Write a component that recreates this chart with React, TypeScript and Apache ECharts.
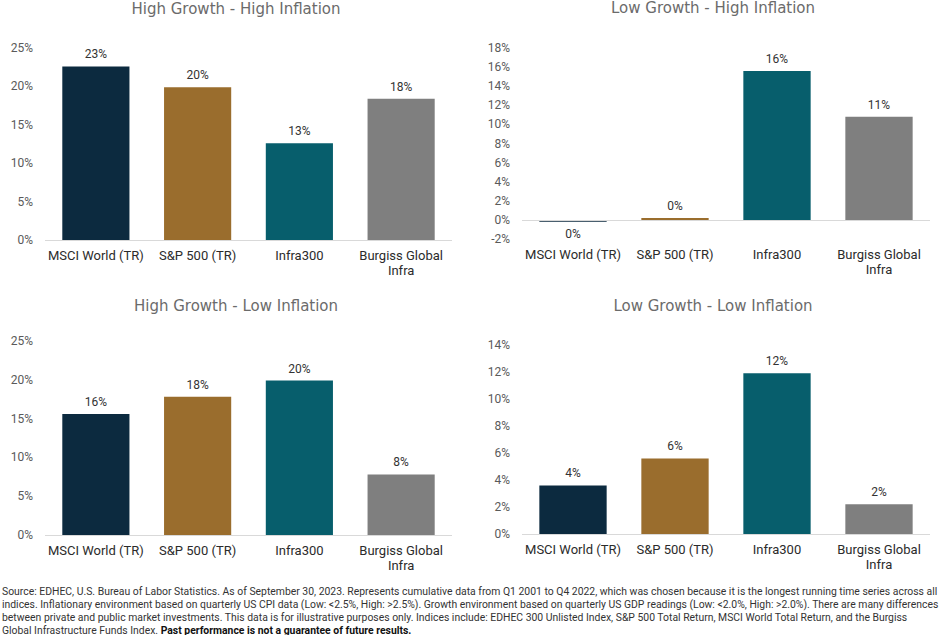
import React, { useEffect, useRef } from "react";
import * as echarts from "echarts";

const categories = ["MSCI World (TR)", "S&P 500 (TR)", "Infra300", "Burgiss Global\nInfra"];
const barColors = ["#0c2a3f", "#9a6d2d", "#075e6c", "#7f7f7f"];

const titles = [
  "High Growth - High Inflation",
  "Low Growth - High Inflation",
  "High Growth - Low Inflation",
  "Low Growth - Low Inflation",
];

const highGrowthHighInfl = [22.6, 19.9, 12.6, 18.4];
const lowGrowthHighInfl = [-0.2, 0.2, 15.6, 10.8];
const highGrowthLowInfl = [15.6, 17.8, 19.9, 7.8];
const lowGrowthLowInfl = [3.6, 5.6, 11.9, 2.2];

const yMins = [0, -2, 0, 0];
const yMaxs = [25, 18, 25, 14];
const yIntervals = [5, 2, 5, 2];

const footLines = [
  "Source: EDHEC, U.S. Bureau of Labor Statistics. As of September 30, 2023. Represents cumulative data from Q1 2001 to Q4 2022, which was chosen because it is the longest running time series across all",
  "indices. Inflationary environment based on quarterly US CPI data (Low: <2.5%, High: >2.5%). Growth environment based on quarterly US GDP readings (Low: <2.0%, High: >2.0%). There are many differences",
  "between private and public market investments. This data is for illustrative purposes only. Indices include: EDHEC 300 Unlisted Index, S&P 500 Total Return, MSCI World Total Return, and the Burgiss",
  "Global Infrastructure Funds Index. ",
];
const footBold = "Past performance is not a guarantee of future results.";

const panelData = [highGrowthHighInfl, lowGrowthHighInfl, highGrowthLowInfl, lowGrowthLowInfl];

const grids = [
  { left: 45, top: 48, width: 407, height: 192 },
  { left: 522, top: 48, width: 408, height: 191 },
  { left: 45, top: 341, width: 407, height: 194 },
  { left: 522, top: 345, width: 408, height: 189 },
];
const titlePos = [
  { x: 236, y: 9 },
  { x: 713, y: 8 },
  { x: 236, y: 306 },
  { x: 713, y: 306 },
];

export default function App() {
  const ref = useRef<HTMLDivElement>(null);
  useEffect(() => {
    document.body.style.margin = "0";
    const chart = echarts.init(ref.current!, null, { renderer: "svg" });
    const footFont = 10.4;
    const option: any = {
      animation: false,
      backgroundColor: "#ffffff",
      textStyle: { fontFamily: "Roboto" },
      grid: grids.map((g) => ({ ...g, containLabel: false })),
      xAxis: grids.map((_, i) => ({
        type: "category",
        gridIndex: i,
        data: categories,
        axisLine: { show: false, onZero: false },
        axisTick: { show: false },
        axisLabel: {
          color: "#2b2b2b",
          fontSize: 13,
          fontFamily: "Roboto",
          margin: 8,
          lineHeight: 15,
          interval: 0,
        },
      })),
      yAxis: grids.map((_, i) => ({
        type: "value",
        gridIndex: i,
        min: yMins[i],
        max: yMaxs[i],
        interval: yIntervals[i],
        splitLine: { show: false },
        axisLine: { show: false },
        axisTick: { show: false },
        axisLabel: {
          formatter: "{value}%",
          color: "#5a5a5a",
          fontSize: 12,
          fontFamily: "Roboto",
          margin: 12,
        },
      })),
      series: panelData.map((vals, i) => ({
        type: "bar",
        xAxisIndex: i,
        yAxisIndex: i,
        barWidth: "66%",
        data: vals.map((v, j) => ({
          value: v,
          itemStyle: { color: barColors[j] },
          label: { position: v < 0 ? "bottom" : "top" },
        })),
        label: {
          show: true,
          color: "#333333",
          fontSize: 12,
          fontFamily: "Roboto",
          distance: 6,
          formatter: (p: any) => `${Math.round(p.value)}%`,
        },
        markLine: {
          silent: true,
          symbol: "none",
          label: { show: false },
          lineStyle: { color: "#d9d9d9", width: 1, type: "solid" },
          data: [{ yAxis: 0 }],
        },
      })),
      graphic: [
        ...titles.map((t, i) => ({
          type: "text",
          x: titlePos[i].x,
          y: titlePos[i].y,
          style: {
            text: t,
            fill: "#6b6b6b",
            font: "15px 'DejaVu Sans'",
            align: "center",
            verticalAlign: "middle",
          },
        })),
        ...footLines.slice(0, 3).map((l, i) => ({
          type: "text",
          x: 2,
          y: 591 + i * 13,
          style: {
            text: l,
            fill: "#333333",
            font: `${footFont}px Roboto`,
            verticalAlign: "middle",
          },
        })),
        {
          type: "text",
          x: 2,
          y: 591 + 3 * 13,
          style: {
            text: `{n|${footLines[3]}}{b|${footBold}}`,
            verticalAlign: "middle",
            rich: {
              n: { fill: "#333333", fontSize: footFont, fontFamily: "Roboto" },
              b: { fill: "#111111", fontSize: footFont, fontFamily: "Roboto", fontWeight: "bold" },
            },
          },
        },
      ],
    };
    chart.setOption(option);
    return () => chart.dispose();
  }, []);
  return <div ref={ref} style={{ width: 945, height: 635 }} />;
}
